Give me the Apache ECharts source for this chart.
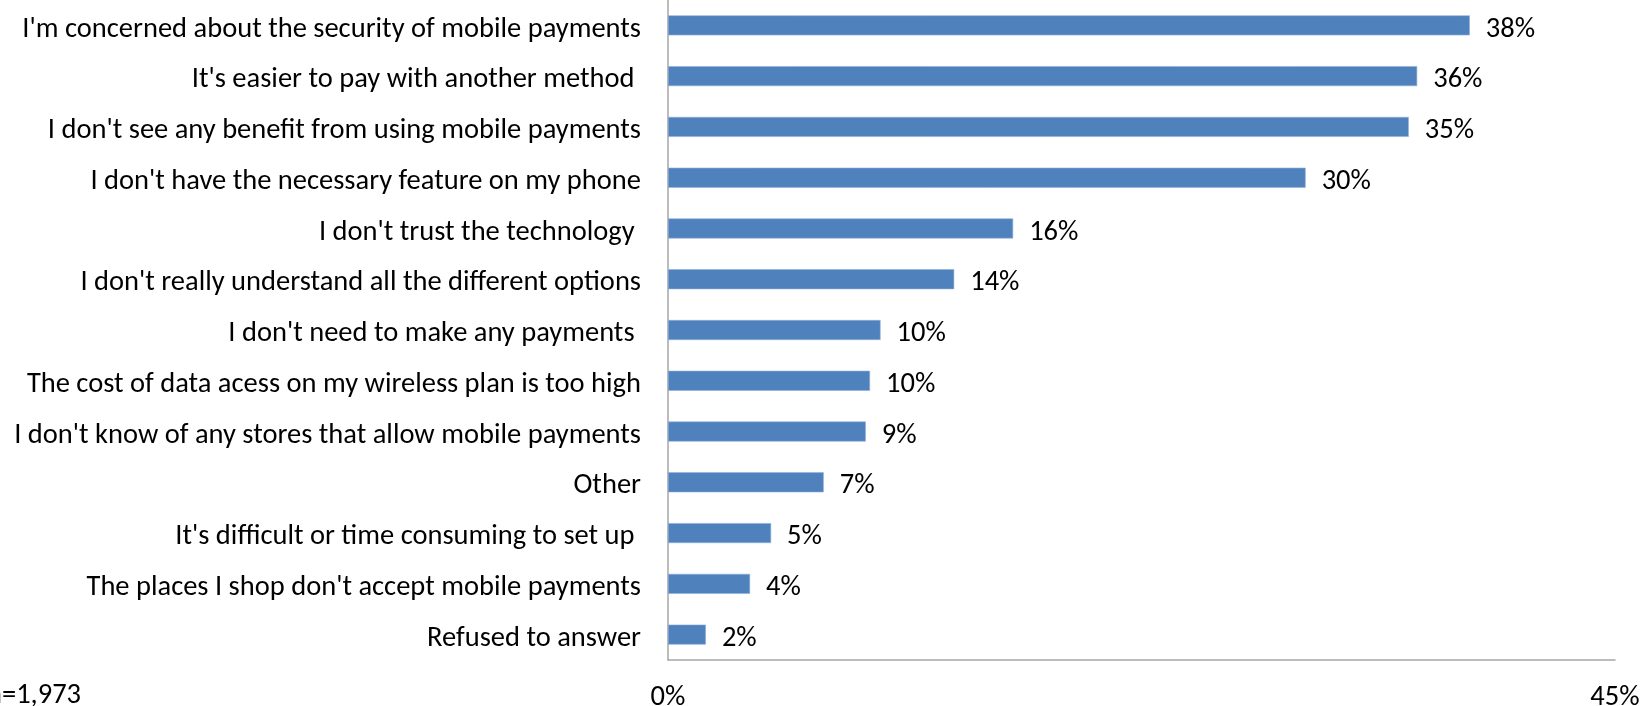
<!DOCTYPE html>
<html>
<head>
<meta charset="utf-8">
<script src="https://cdn.jsdelivr.net/npm/echarts@6/dist/echarts.min.js"></script>
<style>
  html, body { margin: 0; padding: 0; background: #fff; }
  #chart { width: 1644px; height: 706px; }
</style>
</head>
<body>
<div id="chart"></div>
<script>
// Reasons given for not using mobile payments (share of respondents, %)
const reasons = [
  "I'm concerned about the security of mobile payments",
  "It's easier to pay with another method ",
  "I don't see any benefit from using mobile payments",
  "I don't have the necessary feature on my phone",
  "I don't trust the technology ",
  "I don't really understand all the different options",
  "I don't need to make any payments ",
  "The cost of data acess on my wireless plan is too high",
  "I don't know of any stores that allow mobile payments",
  "Other",
  "It's difficult or time consuming to set up ",
  "The places I shop don't accept mobile payments",
  "Refused to answer"
];
const shares = [38.1, 35.6, 35.2, 30.3, 16.4, 13.6, 10.1, 9.6, 9.4, 7.4, 4.9, 3.9, 1.8];
const axisMin = 0;
const axisMax = 45;
const sampleNote = "n=1,973";

const FONT = "Carlito, Calibri, 'Liberation Sans Narrow', 'Liberation Sans', sans-serif";
const FONT_SIZE = 28.5;

const chart = echarts.init(document.getElementById('chart'), null, { renderer: 'canvas' });
chart.setOption({
  animation: false,
  backgroundColor: '#ffffff',
  grid: {
    left: 668, right: 29, top: 0, bottom: 46,
    containLabel: false,
    outerBoundsMode: 'none'
  },
  xAxis: {
    type: 'value',
    min: axisMin,
    max: axisMax,
    interval: axisMax - axisMin,
    axisLine: { show: true, lineStyle: { color: '#a6a6a6', width: 1.5 } },
    axisTick: { show: false },
    splitLine: { show: false },
    axisLabel: {
      margin: 23,
      color: '#000',
      fontFamily: FONT,
      fontSize: FONT_SIZE,
      formatter: v => v + '%'
    }
  },
  yAxis: {
    type: 'category',
    inverse: true,
    data: reasons,
    axisLine: { show: true, lineStyle: { color: '#a6a6a6', width: 1.5 } },
    axisTick: { show: false },
    axisLabel: {
      margin: 27,
      color: '#000',
      fontFamily: FONT,
      fontSize: FONT_SIZE,
      // nudge the text down so it sits level with its bar
      formatter: v => '{t|' + v + '}',
      rich: {
        t: {
          fontFamily: FONT,
          fontSize: FONT_SIZE,
          color: '#000',
          lineHeight: 37,
          verticalAlign: 'bottom'
        }
      }
    }
  },
  series: [{
    type: 'bar',
    data: shares,
    barWidth: 20,
    itemStyle: { color: '#4f81bd', borderColor: '#8eb0dc', borderWidth: 0.6 },
    label: {
      show: true,
      position: 'right',
      distance: 16,
      offset: [0, 4],
      color: '#000',
      fontFamily: FONT,
      fontSize: FONT_SIZE,
      formatter: p => Math.round(p.value) + '%'
    }
  }],
  graphic: [{
    type: 'text',
    left: -13,
    top: 681,
    style: { text: sampleNote, fill: '#000', font: FONT_SIZE + 'px ' + FONT }
  }]
});
</script>
</body>
</html>
